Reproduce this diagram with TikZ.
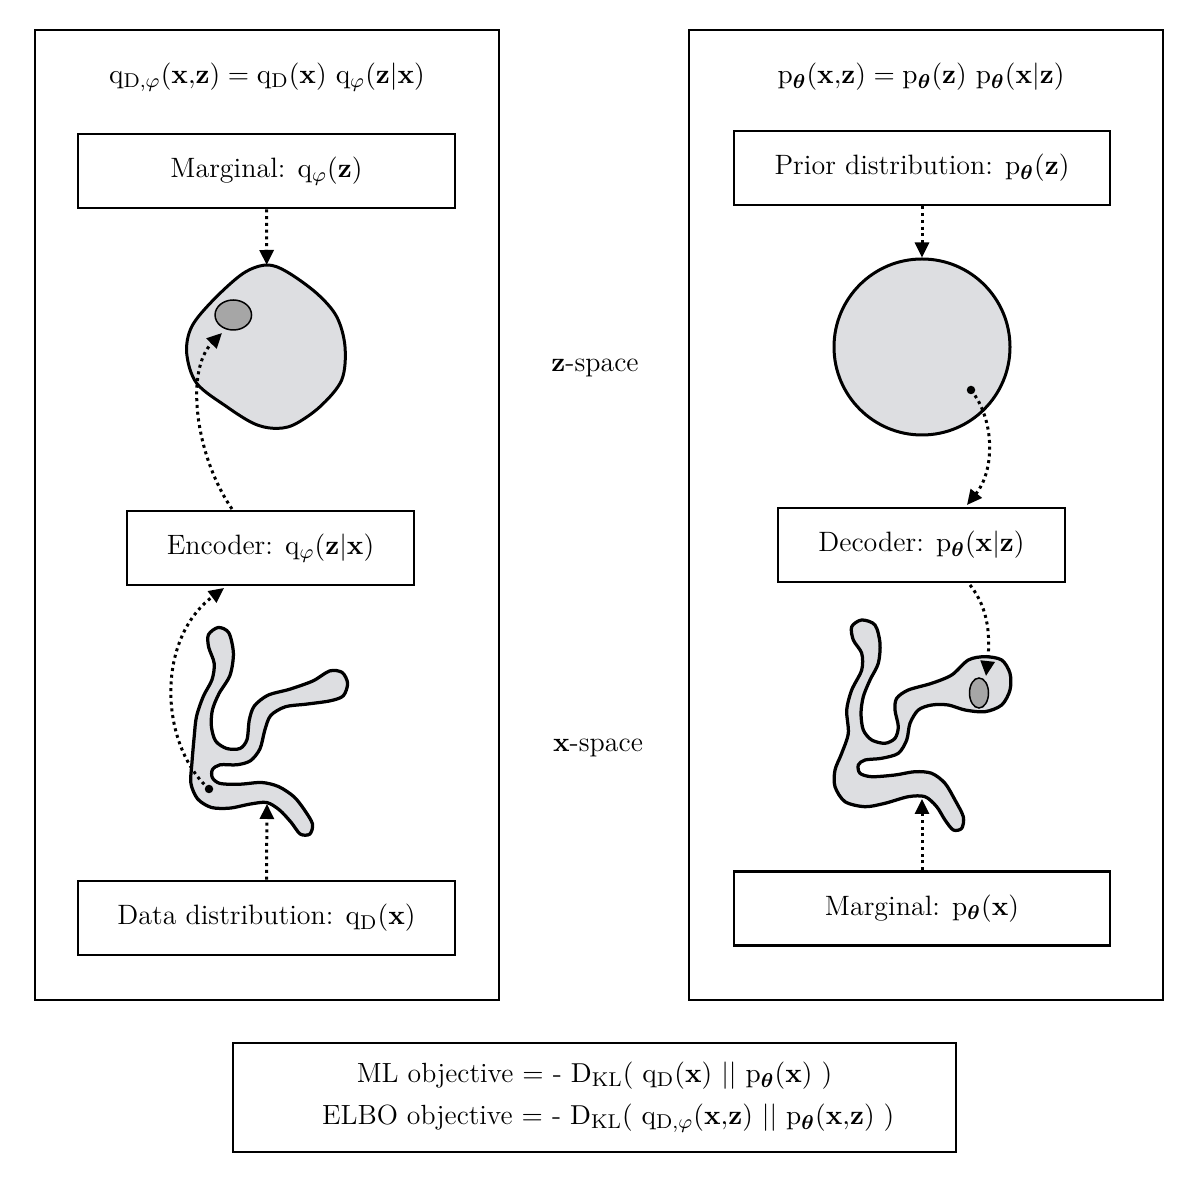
\documentclass[tikz,border=0pt]{standalone}
\usepackage{amsmath}
\usepackage{bm}
\usetikzlibrary{arrows.meta,calc}
\newcommand{\vx}{\mathbf{x}}
\newcommand{\vz}{\mathbf{z}}
\newcommand{\pth}{\mathrm{p}_{\bm{\theta}}}
\newcommand{\qD}{\mathrm{q}_{\mathrm{D}}}
\newcommand{\qphi}{\mathrm{q}_{\varphi}}
\newcommand{\qDphi}{\mathrm{q}_{\mathrm{D},\varphi}}
\definecolor{blobgray}{RGB}{221,222,225}
\definecolor{darkgray}{RGB}{166,166,166}
\tikzset{
  frame/.style={draw, line width=1.1pt},
  labelbox/.style={draw, line width=1.1pt, minimum height=29.6pt, inner sep=0pt, font=\fontsize{11.2}{14}\selectfont},
  plain/.style={inner sep=0pt, font=\fontsize{11.2}{14}\selectfont},
  dotarrow/.style={line width=1.2pt, dash pattern=on 1.2pt off 1.5pt, -{Triangle[length=6pt,width=5.6pt]}},
  blob/.style={line width=1.3pt, fill=blobgray, line join=round},
}
\begin{document}
\begin{tikzpicture}[x=0.4pt,y=-0.4pt]
\useasboundingbox (0,0) rectangle (1200,1183);
% outer frames
\draw[frame] (35,30) rectangle (499,1000);
\draw[frame] (689,30) rectangle (1163,1000);
% ---------- left column ----------
\node[plain] (lform) at (267,77) {$\qDphi(\vx{,}\vz) = \qD(\vx)\ \qphi(\vz|\vx)$};
\node[labelbox, minimum width=150.8pt] (marg) at (266.5,171) {Marginal: $\qphi(\vz)$};
\node[labelbox, minimum width=114.8pt] (enc) at (270.5,548) {Encoder: $\qphi(\vz|\vx)$};
\node[labelbox, minimum width=150.8pt] (data) at (266.5,918) {Data distribution: $\qD(\vx)$};
% z-blob
\draw[blob, line width=1.2pt] plot[smooth cycle, tension=0.55] coordinates {
 (266.7,265) (286.7,271.7) (316.7,293.3) (336.7,316.7) (345,346.7) (341.7,380)
 (320,406.7) (293.3,425) (273.3,428.3) (253.3,423.3) (226.7,406.7) (196.7,383.3)
 (186.7,353.3) (191.7,326.7) (213.3,300) (243.3,273.3)};
\coordinate (zblobtop) at (266.7,265);
\draw[line width=0.6pt, fill=darkgray] (233.3,315) ellipse [x radius=7.3pt, y radius=6pt];
\coordinate (lell) at (222,333);
% x-blob left
\draw[blob] plot[smooth cycle, tension=0.5] coordinates {
 (218.3,627.5) (228.8,632.8) (233.4,653.3) (230,675.3) (219,693.6) (212.4,710)
 (211.4,726.4) (215.6,741) (226.7,748.5) (240,748.5) (247,739.6) (249.3,720)
 (254.3,706) (268,695.2) (289.8,689.2) (313,680.9) (329.8,670.9) (342.2,672.5)
 (347.6,683.3) (343.3,695.8) (330.3,700.8) (306.8,704.1) (285.3,706.8) (270.7,715.5)
 (264.8,730.2) (260,748.8) (250.4,760.8) (236.8,764.8) (220,764.8) (212.4,769.7)
 (212.4,777.8) (220.2,783.5) (240,784.2) (261.7,782.5) (278.6,786.6) (294,796.8)
 (304.7,810.3) (312.5,824) (309.8,834.1) (300.3,834.1) (291,822.2) (279.5,810)
 (266.7,802.5) (250,804.1) (230,808.1) (211.5,807.5) (197.7,799) (190.9,783.4)
 (191.9,763.3) (194.2,736.6) (196.5,716.5) (203.3,696.4) (212,679.7) (214.2,663.4)
 (208.6,646.9) (208.5,634.6)};
\fill (209,789) circle[radius=1.7pt];
\coordinate (ldot) at (209,789);
\coordinate (lxtop) at (267,804);
\coordinate (encin) at (224,588);
\coordinate (encout) at (232,509);
% left arrows
\draw[dotarrow] (marg.south) -- (zblobtop);
\draw[dotarrow] (data.north) -- (lxtop);
\draw[dotarrow] (ldot) .. controls (160,745) and (155,640) .. (encin);
\draw[dotarrow] (encout) .. controls (195,455) and (185,370) .. (lell);
% ---------- right column ----------
\node[plain] (rform) at (921,77) {$\pth(\vx{,}\vz) = \pth(\vz)\ \pth(\vx|\vz)$};
\node[labelbox, minimum width=150.4pt] (prior) at (922,168) {Prior distribution: $\pth(\vz)$};
\node[labelbox, minimum width=114.8pt] (dec) at (921.5,545) {Decoder: $\pth(\vx|\vz)$};
\node[labelbox, minimum width=150.4pt] (margp) at (922,908.5) {Marginal: $\pth(\vx)$};
\node[circle, draw, line width=1.2pt, fill=blobgray, minimum size=70.4pt, inner sep=0pt] (circ) at (922,347) {};
\fill (971,390) circle[radius=1.7pt];
\coordinate (rdot) at (971,390);
% x-blob right
\draw[blob] plot[smooth cycle, tension=0.5] coordinates {
 (861.7,620) (875,625) (880,643.3) (878.3,663.3) (870,680) (863.3,696.7)
 (861,713.3) (863.3,730) (871.7,740) (885,743.3) (895,738.3) (898.3,726.7)
 (895,710) (896.7,698.3) (908.3,690) (931.7,683.3) (951.7,675) (968.3,660)
 (985,656.7) (1001.7,660) (1010,673.3) (1010,690) (1001.7,705) (985,711.7)
 (965,710) (948.3,705) (931.7,705) (918.3,710) (910,723.3) (906.7,740)
 (898.3,753.3) (881.7,758.3) (865,760) (858.3,765) (860,773.3) (871.7,776.7)
 (895,775) (915,771.7) (931.7,773.3) (945,783.3) (955,800) (963.3,816.7)
 (961.7,828.3) (953.3,830) (945,820) (936.7,806.7) (925,796.7) (908.3,796.7)
 (885,803.3) (865,806.7) (845,801.7) (835,786.7) (835,770) (841.7,753.3)
 (848.3,733.3) (846.7,710) (851.7,690) (861.7,670) (861.7,653.3) (853.3,640)
 (851.7,626.7)};
\draw[line width=0.6pt, fill=darkgray] (979,693) ellipse [x radius=3.8pt, y radius=6pt];
\coordinate (rell) at (986,676);
\coordinate (rxtop) at (922,799);
\coordinate (decin) at (967,505);
\coordinate (decout) at (970,585);
% right arrows
\draw[dotarrow] (prior.south) -- (circ.north);
\draw[dotarrow] (margp.north) -- (rxtop);
\draw[dotarrow] (rdot) .. controls (995,420) and (995,470) .. (decin);
\draw[dotarrow] (decout) .. controls (990,610) and (990,640) .. (rell);
% middle labels
\node[plain, anchor=base] (zsp) at (595,372) {$\vz$-space};
\node[plain, anchor=base] (xsp) at (598,752) {$\vx$-space};
% bottom box
\node[draw, line width=1.1pt, minimum width=289.2pt, minimum height=43.6pt, align=center, inner sep=0pt, font=\fontsize{11.1}{16.8}\selectfont] (obj) at (594.5,1097.5)
 {ML objective $=$ - $\mathrm{D}_{\mathrm{KL}}($ $\qD(\vx)$ $||$ $\pth(\vx)$ $)$\\
  \hspace*{11pt}ELBO objective $=$ - $\mathrm{D}_{\mathrm{KL}}($ $\qDphi(\vx{,}\vz)$ $||$ $\pth(\vx{,}\vz)$ $)$};
\end{tikzpicture}
\end{document}
